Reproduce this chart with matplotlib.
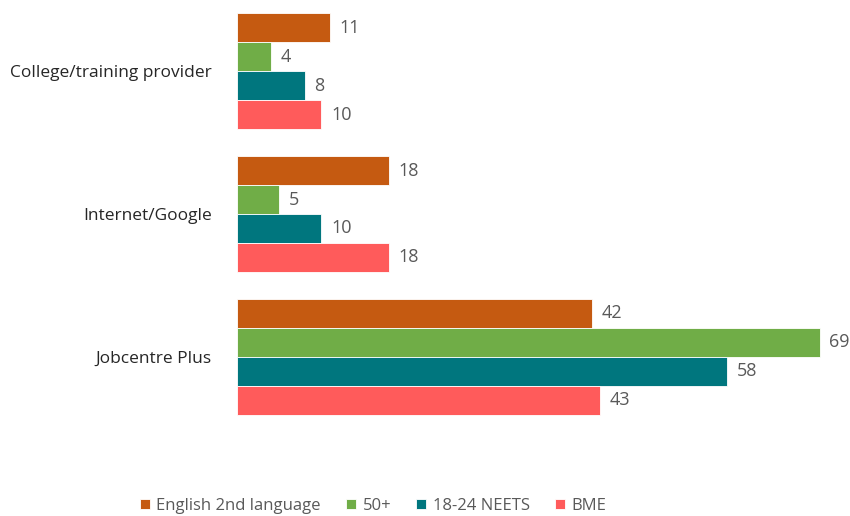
import numpy as np
import matplotlib.pyplot as plt

categories = ['College/training provider', 'Internet/Google', 'Jobcentre Plus']
series = ['English 2nd language', '50+', '18-24 NEETS', 'BME']
english = [11, 18, 42]
over50 = [4, 5, 69]
neets = [8, 10, 58]
bme = [10, 18, 43]

colours = ['#C55A11', '#70AD47', '#00767E', '#FF5B5B']
values = [english, over50, neets, bme]

plt.rcParams['font.family'] = ['Open Sans', 'DejaVu Sans']

fig = plt.figure(figsize=(8.5, 5.16), dpi=100)
ax = fig.add_axes([237 / 850, 88 / 516, 608 / 850, 428 / 516])

h = 0.203
y = np.arange(len(categories))
for i, (name, vals, col) in enumerate(zip(series, values, colours)):
    pos = y - 1.5 * h + i * h
    bars = ax.barh(pos, vals, height=h, color=col, label=name, edgecolor='white', linewidth=0.6)
    for b, v in zip(bars, vals):
        ax.annotate(str(v), (b.get_width(), b.get_y() + b.get_height() / 2),
                    xytext=(7, 0), textcoords='offset points', va='center', ha='left',
                    fontsize=13, color='#595959', annotation_clip=False)

ax.set_xlim(0, 72)
ax.set_ylim(2.5, -0.5)
ax.set_yticks(y)
ax.set_yticklabels(categories, fontsize=12.5, color='#262626')
ax.tick_params(axis='y', length=0, pad=18)
ax.set_xticks([])
for s in ax.spines.values():
    s.set_visible(False)

ax.legend(loc='center', bbox_to_anchor=(373 / 850, 10 / 516), bbox_transform=fig.transFigure,
          ncol=4, frameon=False, fontsize=12, handlelength=0.6, handleheight=0.6,
          handletextpad=0.4, columnspacing=1.5, labelcolor='#595959')

plt.savefig('out.png', dpi=100)
